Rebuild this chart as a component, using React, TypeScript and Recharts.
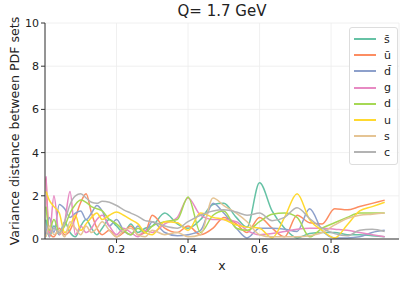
import React from 'react';
import { LineChart, Line, XAxis, YAxis, CartesianGrid } from 'recharts';

// x grid shared by all sets
const xs = [0.003, 0.012, 0.025, 0.04, 0.055, 0.07, 0.085, 0.1, 0.115, 0.13, 0.145, 0.16, 0.18, 0.2, 0.22, 0.24, 0.26, 0.28, 0.3,
  0.335, 0.37, 0.4, 0.435, 0.47, 0.5, 0.535, 0.565, 0.6, 0.635, 0.67, 0.705, 0.74, 0.775, 0.81, 0.845, 0.88, 0.915, 0.95];

const sbar = [0.9, 0.1, 0.6, 0.2, 0.8, 0.3, 0.1, 0.6, 0.9, 0.5, 0.2, 0.5, 0.9, 0.6, 0.3, 0.7, 0.3, 0.5, 0.6,
  1.2, 0.7, 0.5, 0.9, 1.6, 1.65, 1.0, 0.55, 2.6, 1.3, 0.5, 0.05, 0.25, 0.3, 0.3, 0.2, 0.2, 0.15, 0.1];
const ubar = [2.8, 0.3, 0.1, 0.5, 0.2, 0.4, 1.0, 1.7, 2.1, 1.2, 0.5, 0.2, 0.4, 0.1, 0.3, 0.6, 0.2, 0.3, 1.1,
  0.5, 0.3, 0.6, 0.2, 0.5, 1.0, 0.7, 0.3, 1.0, 0.5, 0.1, 1.1, 0.75, 0.7, 1.4, 1.35, 1.5, 1.65, 1.8];
const dbar = [0.2, 1.0, 0.3, 1.6, 1.4, 1.0, 1.2, 1.3, 0.9, 1.2, 1.55, 1.3, 0.6, 0.9, 0.4, 0.2, 0.6, 0.3, 0.8,
  0.3, 0.15, 0.2, 0.4, 1.65, 1.2, 0.5, 0.05, 0.5, 0.5, 0.45, 0.35, 1.4, 0.4, 0.05, 0.05, 0.1, 0.3, 0.4];
const gluon = [2.9, 0.1, 2.0, 0.2, 0.8, 2.2, 0.2, 0.6, 0.3, 0.5, 0.9, 1.1, 0.6, 0.2, 0.5, 0.3, 0.1, 0.4, 0.3,
  0.7, 1.0, 1.9, 1.1, 0.9, 0.9, 0.8, 0.4, 0.2, 0.25, 0.35, 0.45, 0.5, 0.5, 0.45, 0.4, 0.3, 0.2, 0.1];
const dquark = [1.5, 0.4, 0.9, 0.3, 0.6, 1.2, 1.6, 1.8, 1.7, 1.5, 1.4, 1.3, 0.9, 0.7, 0.4, 0.2, 0.5, 0.3, 0.6,
  0.8, 0.9, 1.95, 0.3, 1.1, 1.3, 0.5, 0.4, 0.8, 1.15, 1.2, 1.0, 0.1, 0.5, 0.75, 1.0, 1.2, 1.2, 1.2];
const uquark = [2.2, 1.8, 1.5, 1.2, 0.3, 0.6, 1.1, 0.4, 0.7, 1.0, 1.2, 0.9, 1.1, 1.25, 1.1, 0.9, 0.7, 0.3, 0.2,
  0.8, 0.75, 0.4, 1.2, 1.0, 0.9, 0.65, 0.55, 0.5, 0.05, 1.0, 2.1, 0.9, 0.4, 0.05, 0.65, 1.3, 1.5, 1.7];
const squark = [0.1, 0.6, 0.2, 0.4, 0.1, 0.8, 0.5, 0.2, 0.6, 0.3, 0.5, 0.8, 0.4, 0.1, 0.4, 0.5, 0.2, 0.1, 0.4,
  0.2, 0.3, 0.1, 0.2, 1.9, 1.55, 1.2, 0.8, 0.2, 0.1, 0.1, 0.1, 0.15, 0.3, 0.65, 0.95, 1.1, 1.15, 1.2];
const cquark = [0.3, 0.2, 0.5, 0.3, 0.8, 1.6, 2.0, 2.1, 1.9, 1.7, 1.65, 1.75, 1.7, 1.55, 1.35, 1.2, 1.05, 0.85, 0.8,
  0.6, 0.5, 0.8, 1.1, 1.3, 1.35, 1.25, 1.1, 1.2, 0.85, 1.0, 1.45, 0.95, 0.5, 0.25, 0.15, 0.4, 0.45, 0.35];

const seriesNames = ['s\u0304', 'u\u0304', 'd\u0304', 'g', 'd', 'u', 's', 'c'];
const seriesColors = ['#66c2a5', '#fc8d62', '#8da0cb', '#e78ac3', '#a6d854', '#ffd92f', '#e5c494', '#b3b3b3'];
const seriesValues = [sbar, ubar, dbar, gluon, dquark, uquark, squark, cquark];

const xTicks = [0.2, 0.4, 0.6, 0.8];
const yTicks = [0, 2, 4, 6, 8, 10];

const data = xs.map((x, i) => {
  const row: Record<string, number> = { x };
  seriesValues.forEach((vals, k) => {
    row['k' + k] = vals[i];
  });
  return row;
});

const font = '"DejaVu Sans", sans-serif';

export default function App() {
  return (
    <div style={{ position: 'absolute', left: 0, top: 0, width: 407, height: 281, background: '#fff', fontFamily: font }}>
      <div style={{ position: 'absolute', left: 45, width: 354, top: 2, textAlign: 'center', fontSize: 15, color: '#222' }}>
        Q= 1.7 GeV
      </div>
      <LineChart width={407} height={281} data={data} margin={{ top: 23, right: 8, bottom: 12, left: 8 }}>
        <CartesianGrid stroke="#ececec" strokeWidth={0.8} />
        <XAxis
          type="number"
          dataKey="x"
          domain={[0, 0.99]}
          ticks={xTicks}
          tickFormatter={(v: number) => v.toFixed(1)}
          allowDataOverflow
          height={30}
          tickSize={4}
          stroke="#333"
          tick={{ fill: '#222', fontSize: 11, fontFamily: font }}
          label={{ value: 'x', position: 'insideBottom', offset: -1, fill: '#222', fontSize: 12.5, fontFamily: font }}
        />
        <YAxis
          type="number"
          domain={[0, 10]}
          ticks={yTicks}
          allowDataOverflow
          width={37}
          tickSize={4}
          stroke="#333"
          tick={{ fill: '#222', fontSize: 11, fontFamily: font }}
          label={{ value: 'Variance distance between PDF sets', angle: -90, position: 'insideLeft', offset: 0, dx: 7, fill: '#222', fontSize: 12.6, fontFamily: font, style: { textAnchor: 'middle' } }}
        />
        {seriesNames.map((name, k) => (
          <Line
            key={name}
            type="monotone"
            dataKey={'k' + k}
            name={name}
            stroke={seriesColors[k]}
            strokeWidth={1.5}
            dot={false}
            isAnimationActive={false}
          />
        ))}
      </LineChart>
      <div style={{ position: 'absolute', left: 349, top: 27, width: 47, padding: '3px 0', background: 'rgba(255,255,255,0.85)', border: '1px solid #ddd', borderRadius: 3 }}>
        {seriesNames.map((name, k) => (
          <div key={name} style={{ display: 'flex', alignItems: 'center', height: 16.2, fontSize: 11, color: '#222' }}>
            <div style={{ width: 22, height: 2, background: seriesColors[k], marginLeft: 4, marginRight: 8, flexShrink: 0 }} />
            <span>{name}</span>
          </div>
        ))}
      </div>
    </div>
  );
}
